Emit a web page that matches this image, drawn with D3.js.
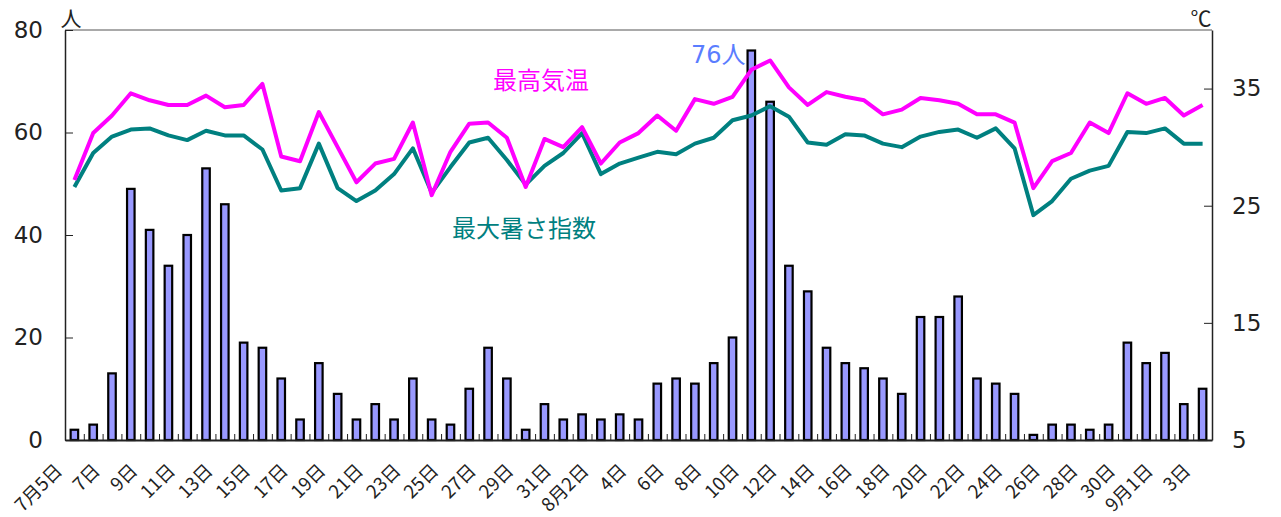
<!DOCTYPE html>
<html>
  <head>
    <meta charset="UTF-8">
    <title>熱中症搬送者数と最高気温・最大暑さ指数</title>
    <script src="https://d3js.org/d3.v7.min.js"></script>
    <style>
      body { margin: 0; background: #fff; }
      text { font-family: "Noto Sans CJK JP", sans-serif; }
    </style>
  </head>
  <body>
    <div id="chart"></div>
    <script>
      // dates 7/5 .. 9/3
      const dates = [
        "7/5","7/6","7/7","7/8","7/9","7/10","7/11","7/12","7/13","7/14","7/15","7/16","7/17","7/18","7/19",
        "7/20","7/21","7/22","7/23","7/24","7/25","7/26","7/27","7/28","7/29","7/30","7/31",
        "8/1","8/2","8/3","8/4","8/5","8/6","8/7","8/8","8/9","8/10","8/11","8/12","8/13","8/14","8/15",
        "8/16","8/17","8/18","8/19","8/20","8/21","8/22","8/23","8/24","8/25","8/26","8/27","8/28","8/29",
        "8/30","8/31","9/1","9/2","9/3"
      ];
      const tickLabels = [
        "7月5日","7日","9日","11日","13日","15日","17日","19日","21日","23日","25日","27日","29日","31日",
        "8月2日","4日","6日","8日","10日","12日","14日","16日","18日","20日","22日","24日","26日","28日","30日",
        "9月1日","3日"
      ];
      // 搬送人数 (人)
      const patients = [
        2,3,13,49,41,34,40,53,46,19,18,12,4,15,9,4,7,4,12,4,3,10,18,12,2,7,4,
        5,4,5,4,11,12,11,15,20,76,66,34,29,18,15,14,12,9,24,24,28,12,11,9,1,3,3,2,3,19,15,17,7,10
      ];
      // 最高気温 (℃)
      const maxTemp = [
        27.2,31.2,32.7,34.6,34.0,33.6,33.6,34.4,33.4,33.6,35.4,29.2,28.8,33.0,30.0,27.0,28.6,29.0,32.1,25.9,29.6,32.0,32.1,30.8,26.6,30.7,30.0,
        31.7,28.6,30.4,31.2,32.7,31.4,34.1,33.7,34.3,36.6,37.4,35.1,33.6,34.7,34.3,34.0,32.8,33.2,34.2,34.0,33.7,32.8,32.8,32.1,26.5,28.8,29.5,32.1,31.2,34.6,33.7,34.2,32.7,33.6
      ];
      // 最大暑さ指数 (℃)
      const maxWbgt = [
        26.6,29.5,30.9,31.5,31.6,31.0,30.6,31.4,31.0,31.0,29.8,26.3,26.5,30.3,26.5,25.4,26.3,27.7,29.9,26.1,28.3,30.4,30.8,28.9,26.8,28.4,29.5,
        31.2,27.7,28.6,29.1,29.6,29.4,30.3,30.8,32.3,32.7,33.5,32.6,30.4,30.2,31.1,31.0,30.3,30.0,30.9,31.3,31.5,30.8,31.6,29.9,24.2,25.4,27.3,28.0,28.4,31.3,31.2,31.6,30.3,30.3
      ];
      const leftTicks = [0, 20, 40, 60, 80];
      const rightTicks = [5, 15, 25, 35];

      const margin = {top: 30, right: 69, bottom: 77, left: 65};
      const width = 1281 - margin.left - margin.right;
      const height = 517 - margin.top - margin.bottom;

      const svg = d3.select("#chart")
        .append("svg")
        .attr("width", 1281)
        .attr("height", 517)
        .append("g")
        .attr("transform", `translate(${margin.left},${margin.top})`);

      const x = d3.scaleBand()
        .domain(dates)
        .range([0, width])
        .paddingInner(0.6)
        .paddingOuter(0.3);
      const xb = d3.scaleLinear().domain([0, dates.length]).range([0, width]);
      const yL = d3.scaleLinear().domain([0, 80]).range([height, 0]);
      const yR = d3.scaleLinear().domain([5, 40]).range([height, 0]);
      const cx = d => x(d) + x.bandwidth() / 2;

      // frame top line
      svg.append("line")
        .attr("x1", 0).attr("x2", width)
        .attr("y1", 0).attr("y2", 0)
        .attr("stroke", "#555").attr("stroke-width", 1);

      // bars
      svg.selectAll("rect.bar")
        .data(patients)
        .join("rect")
        .attr("class", "bar")
        .attr("x", (d, i) => x(dates[i]))
        .attr("y", d => yL(d))
        .attr("width", x.bandwidth())
        .attr("height", d => height - yL(d))
        .attr("fill", "#9999ff")
        .attr("stroke", "#000")
        .attr("stroke-width", 2.2);

      // lines
      const line = vals => d3.line()
        .x((d, i) => cx(dates[i]))
        .y(d => yR(d))(vals);

      svg.append("path")
        .attr("d", line(maxWbgt))
        .attr("fill", "none")
        .attr("stroke", "#008080")
        .attr("stroke-width", 4)
        .attr("stroke-linejoin", "round");

      svg.append("path")
        .attr("d", line(maxTemp))
        .attr("fill", "none")
        .attr("stroke", "#ff00ff")
        .attr("stroke-width", 4)
        .attr("stroke-linejoin", "round");

      // left axis
      const gL = svg.append("g")
        .call(d3.axisLeft(yL).tickValues(leftTicks).tickSizeInner(-8).tickSizeOuter(0).tickPadding(22));
      gL.select(".domain").attr("stroke", "#222").attr("stroke-width", 1.5);
      gL.selectAll(".tick line").attr("stroke", "#222");
      gL.selectAll(".tick text")
        .style("font-family", "'DejaVu Sans', sans-serif")
        .style("font-size", "23px")
        .attr("fill", "#222");

      // right axis
      const gR = svg.append("g")
        .attr("transform", `translate(${width},0)`)
        .call(d3.axisRight(yR).tickValues(rightTicks).tickSizeInner(-8).tickSizeOuter(0).tickPadding(20));
      gR.select(".domain").attr("stroke", "#222").attr("stroke-width", 1.5);
      gR.selectAll(".tick line").attr("stroke", "#222");
      gR.selectAll(".tick text")
        .style("font-family", "'DejaVu Sans', sans-serif")
        .style("font-size", "23px")
        .attr("fill", "#222");

      // bottom axis: small ticks between days
      const gB = svg.append("g")
        .attr("transform", `translate(0,${height})`)
        .call(d3.axisTop(xb).tickValues(d3.range(1, dates.length)).tickSize(6).tickSizeOuter(0).tickFormat(""));
      gB.select(".domain").attr("stroke", "#222").attr("stroke-width", 2);
      gB.selectAll(".tick line").attr("stroke", "#222");

      // rotated date labels every 2 days
      svg.append("g")
        .selectAll("text")
        .data(tickLabels)
        .join("text")
        .attr("transform", (d, i) => `translate(${cx(dates[i * 2]) - 11},${height + 32}) rotate(-45)`)
        .attr("text-anchor", "end")
        .style("font-family", "'Noto Sans CJK JP', sans-serif")
        .style("font-size", "18.5px")
        .attr("fill", "#222")
        .text(d => d);

      // units
      svg.append("text")
        .attr("x", 6).attr("y", -4)
        .attr("text-anchor", "middle")
        .style("font-size", "21px")
        .attr("fill", "#222")
        .text("人");
      svg.append("text")
        .attr("x", width - 11).attr("y", -4)
        .attr("text-anchor", "middle")
        .style("font-size", "21px")
        .attr("fill", "#222")
        .text("℃");

      // series labels
      svg.append("text")
        .attr("x", 428).attr("y", 59)
        .style("font-size", "24px")
        .attr("fill", "#ff00ff")
        .text("最高気温");
      svg.append("text")
        .attr("x", 387).attr("y", 207)
        .style("font-size", "24px")
        .attr("fill", "#008080")
        .text("最大暑さ指数");
      svg.append("text")
        .attr("x", x(dates[36]) - 2).attr("y", 33)
        .attr("text-anchor", "end")
        .style("font-family", "'DejaVu Sans', 'Noto Sans CJK JP', sans-serif")
        .style("font-size", "24px")
        .attr("fill", "#5a7dff")
        .text("76人");
    </script>
  </body>
</html>
